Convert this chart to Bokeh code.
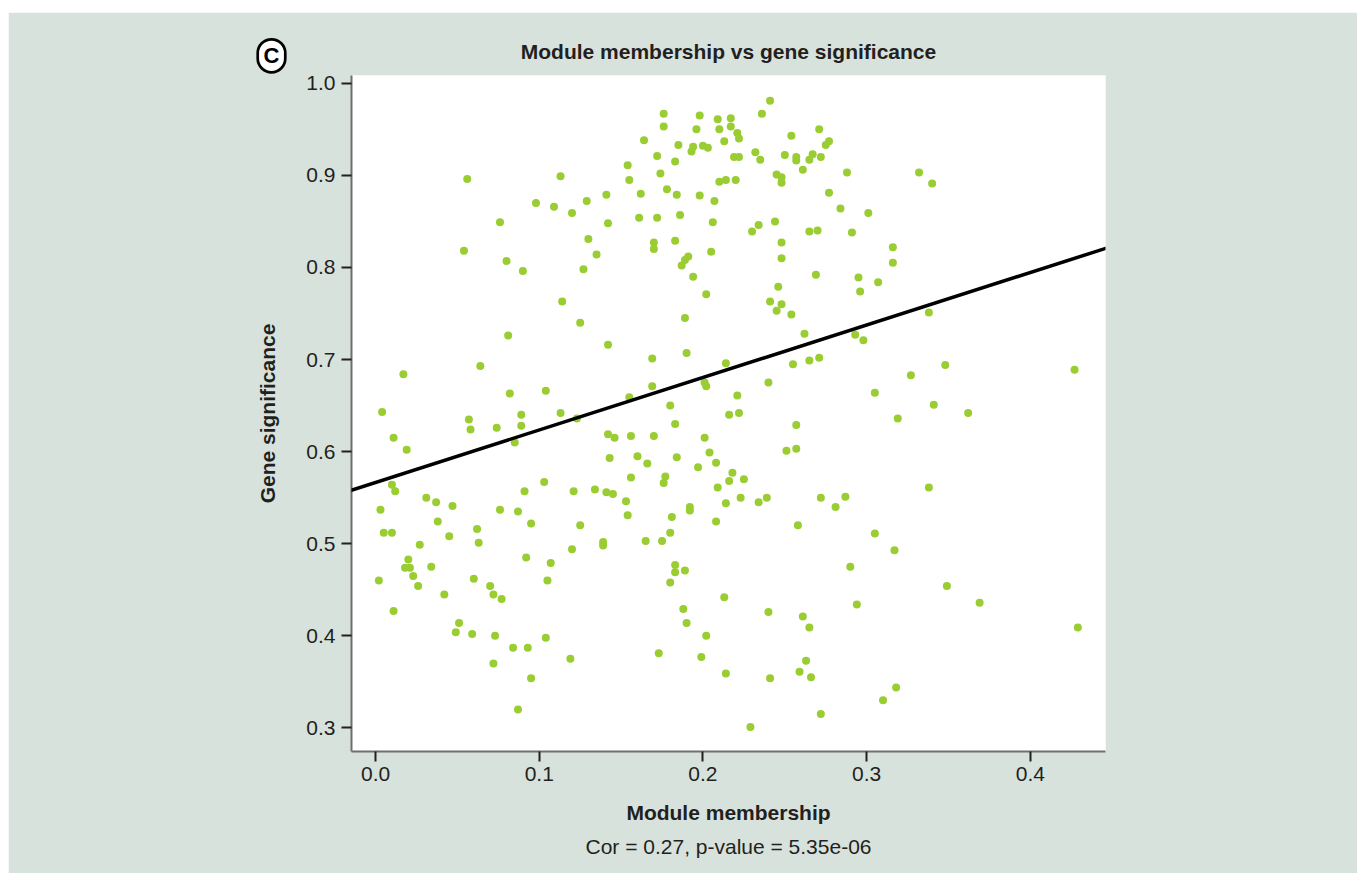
from bokeh.plotting import figure
from bokeh.models import Range1d, FixedTicker, PrintfTickFormatter, Title, Label, Slope
from bokeh.embed import file_html
from bokeh.resources import INLINE

# Module membership (x) and gene significance (y) of each gene
module_membership = [
    0.056, 0.113, 0.098, 0.109, 0.129, 0.141, 0.120, 0.076, 0.142, 0.130,
    0.054, 0.135, 0.080, 0.090, 0.127, 0.114, 0.125, 0.081, 0.142, 0.064,
    0.017, 0.082, 0.104,
    0.241, 0.176, 0.198, 0.236, 0.176, 0.209, 0.217, 0.210, 0.217, 0.196,
    0.221, 0.222, 0.213, 0.254, 0.271, 0.164, 0.185, 0.194, 0.193, 0.200,
    0.203, 0.277, 0.275, 0.232, 0.235, 0.219, 0.222, 0.250, 0.257, 0.257,
    0.265, 0.267, 0.272, 0.172, 0.154, 0.183, 0.261, 0.288, 0.174, 0.155,
    0.245, 0.248, 0.248, 0.210, 0.214, 0.220, 0.162, 0.178, 0.184, 0.198,
    0.207, 0.277, 0.284, 0.161, 0.172, 0.186, 0.206, 0.230, 0.234, 0.244,
    0.265, 0.270, 0.291, 0.170, 0.170, 0.183, 0.205, 0.248, 0.248, 0.191,
    0.189, 0.187, 0.194, 0.269, 0.295, 0.296, 0.202, 0.246, 0.241, 0.248,
    0.245, 0.254, 0.189, 0.262, 0.293, 0.190, 0.169, 0.214, 0.255, 0.265,
    0.271, 0.169, 0.201, 0.202, 0.240, 0.155, 0.221, 0.180,
    0.332, 0.340, 0.301, 0.316, 0.316, 0.307, 0.338, 0.298, 0.348, 0.327,
    0.427, 0.305, 0.341, 0.362,
    0.057, 0.058, 0.074, 0.089, 0.089, 0.113, 0.123, 0.004, 0.011, 0.019,
    0.085, 0.142, 0.143, 0.010, 0.012, 0.103, 0.091, 0.121, 0.134, 0.141,
    0.031, 0.037, 0.047, 0.003, 0.076, 0.087, 0.038, 0.095, 0.125, 0.005,
    0.010, 0.062, 0.045, 0.063, 0.027, 0.139, 0.139, 0.120, 0.092, 0.107,
    0.020, 0.018, 0.021, 0.034, 0.023, 0.002, 0.026, 0.060, 0.105, 0.070,
    0.072, 0.077, 0.042, 0.011, 0.051, 0.049, 0.059, 0.073, 0.104, 0.084,
    0.093, 0.119, 0.072, 0.095, 0.087,
    0.216, 0.222, 0.183, 0.257, 0.146, 0.156, 0.170, 0.201, 0.204, 0.208,
    0.251, 0.257, 0.160, 0.166, 0.184, 0.197, 0.156, 0.177, 0.176, 0.218,
    0.216, 0.225, 0.209, 0.145, 0.153, 0.154, 0.192, 0.192, 0.181, 0.214,
    0.223, 0.234, 0.239, 0.208, 0.272, 0.281, 0.287, 0.258, 0.165, 0.175,
    0.180, 0.183, 0.183, 0.189, 0.180, 0.290, 0.213, 0.294, 0.188, 0.190,
    0.240, 0.261, 0.265, 0.202, 0.173, 0.199, 0.263, 0.259, 0.266, 0.214,
    0.241, 0.272, 0.229,
    0.319, 0.338, 0.305, 0.317, 0.349, 0.369, 0.429, 0.318, 0.310,
]
gene_significance = [
    0.896, 0.899, 0.870, 0.866, 0.872, 0.879, 0.859, 0.849, 0.848, 0.831,
    0.818, 0.814, 0.807, 0.796, 0.798, 0.763, 0.740, 0.726, 0.716, 0.693,
    0.684, 0.663, 0.666,
    0.981, 0.967, 0.965, 0.967, 0.953, 0.961, 0.962, 0.950, 0.953, 0.950,
    0.946, 0.940, 0.937, 0.943, 0.950, 0.938, 0.933, 0.931, 0.926, 0.932,
    0.930, 0.937, 0.933, 0.925, 0.917, 0.920, 0.920, 0.922, 0.920, 0.916,
    0.917, 0.923, 0.920, 0.921, 0.911, 0.915, 0.906, 0.903, 0.902, 0.895,
    0.901, 0.898, 0.892, 0.893, 0.895, 0.895, 0.880, 0.885, 0.879, 0.878,
    0.872, 0.881, 0.864, 0.854, 0.854, 0.857, 0.849, 0.839, 0.846, 0.850,
    0.839, 0.840, 0.838, 0.827, 0.820, 0.829, 0.817, 0.827, 0.810, 0.812,
    0.808, 0.802, 0.790, 0.792, 0.789, 0.774, 0.771, 0.779, 0.763, 0.760,
    0.753, 0.749, 0.745, 0.728, 0.727, 0.707, 0.701, 0.696, 0.695, 0.699,
    0.702, 0.671, 0.675, 0.671, 0.675, 0.659, 0.661, 0.650,
    0.903, 0.891, 0.859, 0.822, 0.805, 0.784, 0.751, 0.721, 0.694, 0.683,
    0.689, 0.664, 0.651, 0.642,
    0.635, 0.624, 0.626, 0.640, 0.628, 0.642, 0.636, 0.643, 0.615, 0.602,
    0.610, 0.619, 0.593, 0.564, 0.557, 0.567, 0.557, 0.557, 0.559, 0.556,
    0.550, 0.545, 0.541, 0.537, 0.537, 0.535, 0.524, 0.522, 0.520, 0.512,
    0.512, 0.516, 0.508, 0.501, 0.499, 0.502, 0.498, 0.494, 0.485, 0.479,
    0.483, 0.474, 0.474, 0.475, 0.465, 0.460, 0.454, 0.462, 0.460, 0.454,
    0.445, 0.440, 0.445, 0.427, 0.414, 0.404, 0.402, 0.400, 0.398, 0.387,
    0.387, 0.375, 0.370, 0.354, 0.320,
    0.640, 0.642, 0.630, 0.629, 0.615, 0.617, 0.617, 0.615, 0.599, 0.588,
    0.601, 0.603, 0.595, 0.587, 0.594, 0.583, 0.572, 0.573, 0.566, 0.577,
    0.568, 0.570, 0.561, 0.554, 0.546, 0.531, 0.540, 0.536, 0.529, 0.544,
    0.550, 0.545, 0.550, 0.524, 0.550, 0.540, 0.551, 0.520, 0.503, 0.503,
    0.512, 0.477, 0.469, 0.471, 0.458, 0.475, 0.442, 0.434, 0.429, 0.414,
    0.426, 0.421, 0.409, 0.400, 0.381, 0.377, 0.373, 0.361, 0.355, 0.359,
    0.354, 0.315, 0.301,
    0.636, 0.561, 0.511, 0.493, 0.454, 0.436, 0.409, 0.344, 0.330,
]

# Linear fit shown in the chart
fit_intercept = 0.5665
fit_slope = 0.57

x_ticks = [0.0, 0.1, 0.2, 0.3, 0.4]
y_ticks = [0.3, 0.4, 0.5, 0.6, 0.7, 0.8, 0.9, 1.0]

title_text = "Module membership vs gene significance"
x_label = "Module membership"
y_label = "Gene significance"
subtitle_text = "Cor = 0.27, p-value = 5.35e-06"
panel_letter = "C"

FONT = "Liberation Sans"
TEXT_COLOR = "#231f20"
BG = "#d8e2dc"

X0, X1 = -0.0147, 0.4459
Y0, Y1 = 0.2744, 1.0084

p = figure(
    width=1349, height=861,
    x_range=Range1d(X0, X1),
    y_range=Range1d(Y0, Y1),
    output_backend="svg", toolbar_location=None,
    min_border_left=343, min_border_right=252,
    min_border_top=63, min_border_bottom=122,
    background_fill_color="white", border_fill_color=BG,
    outline_line_color=None,
)
p.margin = (12, 0, 0, 8)

p.xgrid.visible = False
p.ygrid.visible = False

p.title.text = title_text
p.title.align = "center"
p.title.text_font = FONT
p.title.text_font_size = "21px"
p.title.text_font_style = "bold"
p.title.text_color = TEXT_COLOR
p.title.standoff = 25

for ax in (p.xaxis, p.yaxis):
    ax.axis_line_color = "#6e6e6e"
    ax.axis_line_width = 2
    ax.major_tick_line_color = TEXT_COLOR
    ax.major_tick_line_width = 2
    ax.major_tick_out = 10
    ax.major_tick_in = 0
    ax.minor_tick_line_color = None
    ax.major_label_text_font = FONT
    ax.major_label_text_font_size = "21px"
    ax.major_label_text_color = TEXT_COLOR
    ax.axis_label_text_font = FONT
    ax.axis_label_text_font_size = "21px"
    ax.axis_label_text_font_style = "bold"
    ax.axis_label_text_color = TEXT_COLOR
    ax.formatter = PrintfTickFormatter(format="%.1f")

p.xaxis.ticker = FixedTicker(ticks=x_ticks)
p.yaxis.ticker = FixedTicker(ticks=y_ticks)
p.xaxis.axis_label = x_label
p.yaxis.axis_label = y_label
p.xaxis.major_label_standoff = 5
p.yaxis.major_label_standoff = 6
p.xaxis.axis_label_standoff = 17
p.yaxis.axis_label_standoff = 24

p.scatter(module_membership, gene_significance, size=8,
          fill_color="#9acd32", line_color=None)

p.add_layout(Slope(gradient=fit_slope, y_intercept=fit_intercept,
                   line_color="black", line_width=3.5))

p.add_layout(Title(text=subtitle_text, align="center", text_font=FONT,
                   text_font_size="21px", text_font_style="normal",
                   text_color=TEXT_COLOR, standoff=13), "below")

# circled panel letter, placed in the left side panel so that it is not clipped to the frame
p.add_layout(Label(x=-0.06357, y=1.0298, text="\u200a" + panel_letter + "\u200a",
                   text_font=FONT, text_font_size="22px", text_font_style="bold",
                   text_color="black", text_align="center", text_baseline="middle",
                   background_fill_color="white", border_line_color="black",
                   border_line_width=2.7, border_radius=15, padding=4), "left")

open("out.html", "w").write(file_html(p, INLINE))
